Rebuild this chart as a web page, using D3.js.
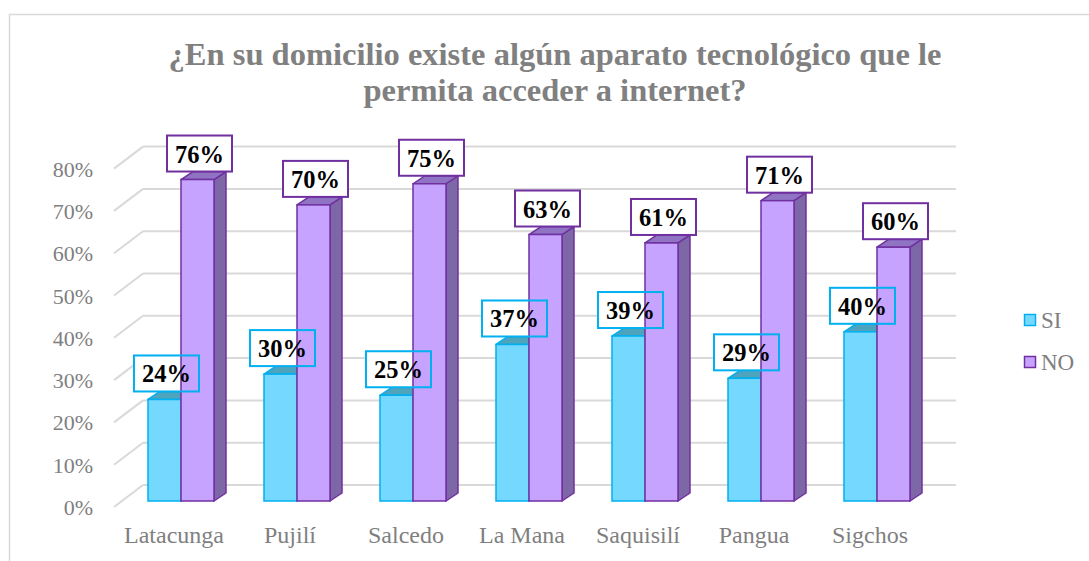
<!DOCTYPE html>
<html><head><meta charset="utf-8">
<script src="https://cdn.jsdelivr.net/npm/d3@7"></script>
<style>html,body{margin:0;padding:0;background:#fff;overflow:hidden}</style>
</head><body>
<svg id="c" width="1089" height="561"></svg>
<script>
const categories = ["Latacunga","Pujilí","Salcedo","La Mana","Saquisilí","Pangua","Sigchos"];
const siValues = [24,30,25,37,39,29,40];
const noValues = [76,70,75,63,61,71,60];
const seriesNames = ["SI","NO"];
const yTicks = [0,10,20,30,40,50,60,70,80];
const titleLines = ["¿En su domicilio existe algún aparato tecnológico que le","permita acceder a internet?"];

const svg = d3.select("#c");
const font = '"Liberation Serif"';

svg.append("rect").attr("x",9.5).attr("y",14.5).attr("width",1200).attr("height",700)
  .attr("fill","#fff").attr("stroke","#d9d9d9").attr("stroke-width",1.5);

const title = svg.append("text").attr("text-anchor","middle").style("font-family",font)
  .attr("font-weight","bold").attr("font-size",32.5).attr("fill","#808080");
titleLines.forEach((t,i)=>title.append("tspan").attr("x",555).attr("y",65+i*36).style("font-family",font).text(t));

const y = d3.scaleLinear().domain([0,80]).range([501,162.6]);
const x = d3.scaleBand().domain(categories).range([116,928]).paddingInner(0).paddingOuter(0);
const barW = 33, dX = 12, dY = 8;
const siOff = 32, noOff = 65;

// gridlines (back wall) and floor diagonals
const grid = svg.append("g");
yTicks.forEach(v=>{
  grid.append("line").attr("x1",143).attr("x2",956).attr("y1",y(v)-16).attr("y2",y(v)-16)
    .attr("stroke","#d9d9d9").attr("stroke-width",2);
  grid.append("line").attr("x1",114).attr("x2",143).attr("y1",y(v)+6).attr("y2",y(v)-16)
    .attr("stroke","#d9d9d9").attr("stroke-width",2);
});

// y tick labels
svg.append("g").selectAll("text").data(yTicks).join("text")
  .attr("x",93).attr("y",v=>y(v)+14).attr("text-anchor","end")
  .style("font-family",font).attr("font-size",22).attr("fill","#7f7f7f").text(v=>v+"%");

// category labels
svg.append("g").selectAll("text").data(categories).join("text")
  .attr("x",c=>x(c)+x.bandwidth()/2).attr("y",543).attr("text-anchor","middle")
  .style("font-family",font).attr("font-size",24).attr("fill","#7f7f7f").text(c=>c);

function drawBars(g, vals, off, cFront, cTop, cSide, cStroke){
  categories.forEach((c,i)=>{
    const x0 = x(c)+off, yt = y(vals[i]), yb = y(0);
    g.append("path").attr("d",`M${x0+barW},${yt}L${x0+barW+dX},${yt-dY}L${x0+barW+dX},${yb-dY}L${x0+barW},${yb}Z`)
      .attr("fill",cSide).attr("stroke",cStroke).attr("stroke-width",1.5).attr("stroke-linejoin","round");
    g.append("path").attr("d",`M${x0},${yt}L${x0+dX},${yt-dY}L${x0+barW+dX},${yt-dY}L${x0+barW},${yt}Z`)
      .attr("fill",cTop).attr("stroke",cStroke).attr("stroke-width",1.5).attr("stroke-linejoin","round");
    g.append("rect").attr("x",x0).attr("y",yt).attr("width",barW).attr("height",yb-yt)
      .attr("fill",cFront).attr("stroke",cStroke).attr("stroke-width",1.5);
  });
}
function boxPos(c,v,off){ return {cx: x(c)+off+barW/2+2, by: y(v)-dY}; }
const boxW = 65, boxH = 36;

const siBars = svg.append("g");
drawBars(siBars, siValues, siOff, "#75d8ff", "#4ea3bd", "#3f8fa8", "#00b0f0");

// SI label fills (behind NO bars)
const siFill = svg.append("g");
categories.forEach((c,i)=>{
  const p = boxPos(c,siValues[i],siOff);
  siFill.append("rect").attr("x",p.cx-boxW/2).attr("y",p.by-boxH).attr("width",boxW).attr("height",boxH).attr("fill","#fff");
});

const noBars = svg.append("g");
drawBars(noBars, noValues, noOff, "#c5a3ff", "#8f74c4", "#7e67a6", "#7030a0");

function drawLabels(vals, off, stroke, fill){
  const g = svg.append("g");
  categories.forEach((c,i)=>{
    const p = boxPos(c,vals[i],off);
    g.append("rect").attr("x",p.cx-boxW/2).attr("y",p.by-boxH).attr("width",boxW).attr("height",boxH)
      .attr("fill",fill).attr("stroke",stroke).attr("stroke-width",2);
    g.append("text").attr("x",p.cx).attr("y",p.by-boxH/2+9).attr("text-anchor","middle")
      .style("font-family",font).attr("font-weight","bold")
      .attr("font-size",24.5).attr("fill","#000").text(vals[i]+"%");
  });
}
drawLabels(siValues, siOff, "#00b0f0", "none");
drawLabels(noValues, noOff, "#7030a0", "#fff");

// legend
const legend = svg.append("g");
const legColors = [["#75d8ff","#00b0f0"],["#c5a3ff","#7030a0"]];
seriesNames.forEach((s,i)=>{
  legend.append("rect").attr("x",1024.5).attr("y",314.5+i*42).attr("width",11).attr("height",11)
    .attr("fill",legColors[i][0]).attr("stroke",legColors[i][1]).attr("stroke-width",1.5);
  legend.append("text").attr("x",1041).attr("y",328+i*42)
    .style("font-family",font).attr("font-size",23).attr("fill","#7f7f7f").text(s);
});
</script>
</body></html>
